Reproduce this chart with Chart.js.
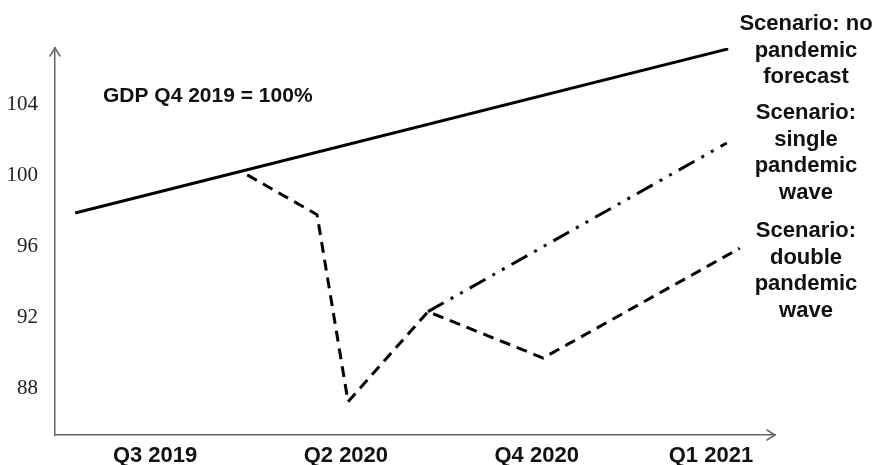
<!DOCTYPE html>
<html>
<head>
<meta charset="utf-8">
<script src="https://cdn.jsdelivr.net/npm/chart.js@4"></script>
<style>
  html, body { margin: 0; padding: 0; background: #fff; }
  #wrap { width: 874px; height: 465px; position: relative; }
</style>
</head>
<body>
<div id="wrap"><canvas id="c" width="874" height="465"></canvas></div>
<script>
// ---- data ----
const noPandemicX = [2.8, 93.5];
const noPandemicY = [97.9, 107.17];

const doubleWaveX = [26.7, 36.4, 40.7, 51.8, 67.8, 95.1];
const doubleWaveY = [100.05, 97.8, 87.23, 92.32, 89.7, 95.9];

const singleWaveX = [51.8, 93.3];
const singleWaveY = [92.32, 101.85];

const quarterLabels = ['Q3 2019', 'Q2 2020', 'Q4 2020', 'Q1 2021'];
const quarterPos = [13.9, 40.4, 66.9, 91.1];

const yTicks = [88, 92, 96, 100, 104];

const noteText = 'GDP Q4 2019 = 100%';
const scenarioNotes = [
  ['Scenario: no', 'pandemic', 'forecast'],
  ['Scenario:', 'single', 'pandemic', 'wave'],
  ['Scenario:', 'double', 'pandemic', 'wave']
];

const toPts = (xs, ys) => xs.map((x, i) => ({ x: x, y: ys[i] }));

const AXIS_COLOR = '#666';

const bgPlugin = {
  id: 'bg',
  beforeDraw(chart) {
    const ctx = chart.ctx;
    ctx.save();
    ctx.fillStyle = '#fff';
    ctx.fillRect(0, 0, chart.width, chart.height);
    ctx.restore();
  }
};

const decoPlugin = {
  id: 'deco',
  afterDraw(chart) {
    const ctx = chart.ctx;
    const a = chart.chartArea;
    ctx.save();
    // arrowheads
    ctx.strokeStyle = AXIS_COLOR;
    ctx.lineWidth = 1.5;
    ctx.lineCap = 'round';
    ctx.beginPath();
    ctx.moveTo(a.left - 5, a.top + 8);
    ctx.lineTo(a.left, a.top);
    ctx.lineTo(a.left + 5, a.top + 8);
    ctx.stroke();
    ctx.beginPath();
    ctx.moveTo(a.right - 8, a.bottom - 5);
    ctx.lineTo(a.right, a.bottom);
    ctx.lineTo(a.right - 8, a.bottom + 5);
    ctx.stroke();

    // texts
    ctx.fillStyle = '#111';
    ctx.font = 'bold 21px "Liberation Sans", Arial, sans-serif';
    ctx.textAlign = 'left';
    ctx.textBaseline = 'middle';
    ctx.fillText(noteText, 103, 96);

    ctx.font = 'bold 22px "Liberation Sans", Arial, sans-serif';
    ctx.textAlign = 'center';
    const startY = [24, 113, 231];
    scenarioNotes.forEach((lines, k) => {
      lines.forEach((t, i) => {
        ctx.fillText(t, 806, startY[k] + i * 26.5);
      });
    });
    ctx.restore();
  }
};

new Chart(document.getElementById('c'), {
  type: 'line',
  data: {
    datasets: [
      {
        label: 'Scenario: no pandemic forecast',
        data: toPts(noPandemicX, noPandemicY),
        borderColor: '#000',
        borderWidth: 3,
        pointRadius: 0,
        tension: 0,
        fill: false
      },
      {
        label: 'Scenario: double pandemic wave',
        data: toPts(doubleWaveX, doubleWaveY),
        borderColor: '#000',
        borderWidth: 3,
        borderDash: [11, 7],
        borderJoinStyle: 'round',
        pointRadius: 0,
        tension: 0,
        fill: false
      },
      {
        label: 'Scenario: single pandemic wave',
        data: toPts(singleWaveX, singleWaveY),
        borderColor: '#000',
        borderWidth: 3,
        borderDash: [18, 8, 3, 8, 3, 8],
        pointRadius: 0,
        tension: 0,
        fill: false
      }
    ]
  },
  options: {
    responsive: false,
    maintainAspectRatio: false,
    animation: false,
    layout: { padding: { left: 0, top: 48, right: 99, bottom: 0 } },
    plugins: {
      legend: { display: false },
      tooltip: { enabled: false },
      title: { display: false }
    },
    scales: {
      x: {
        type: 'linear',
        min: 0,
        max: 100,
        grid: { display: false, drawTicks: false },
        border: { display: true, color: AXIS_COLOR, width: 1.5 },
        afterBuildTicks(scale) {
          scale.ticks = quarterPos.map(v => ({ value: v }));
        },
        afterFit(scale) { scale.height = 30; },
        ticks: {
          autoSkip: false,
          maxRotation: 0,
          padding: 8,
          color: '#111',
          font: { family: '"Liberation Sans", Arial, sans-serif', size: 22, weight: 'bold' },
          callback(value) {
            const i = quarterPos.indexOf(value);
            return i >= 0 ? quarterLabels[i] : '';
          }
        }
      },
      y: {
        type: 'linear',
        min: 85.35,
        max: 107.22,
        grid: { display: false, drawTicks: false },
        border: { display: true, color: AXIS_COLOR, width: 1.5 },
        afterBuildTicks(scale) {
          scale.ticks = yTicks.map(v => ({ value: v }));
        },
        afterFit(scale) { scale.width = 55; },
        ticks: {
          autoSkip: false,
          padding: 17,
          color: '#222',
          font: { family: '"Liberation Serif", "Times New Roman", serif', size: 21 },
          callback(value) { return String(value); }
        }
      }
    }
  },
  plugins: [bgPlugin, decoPlugin]
});
</script>
</body>
</html>
